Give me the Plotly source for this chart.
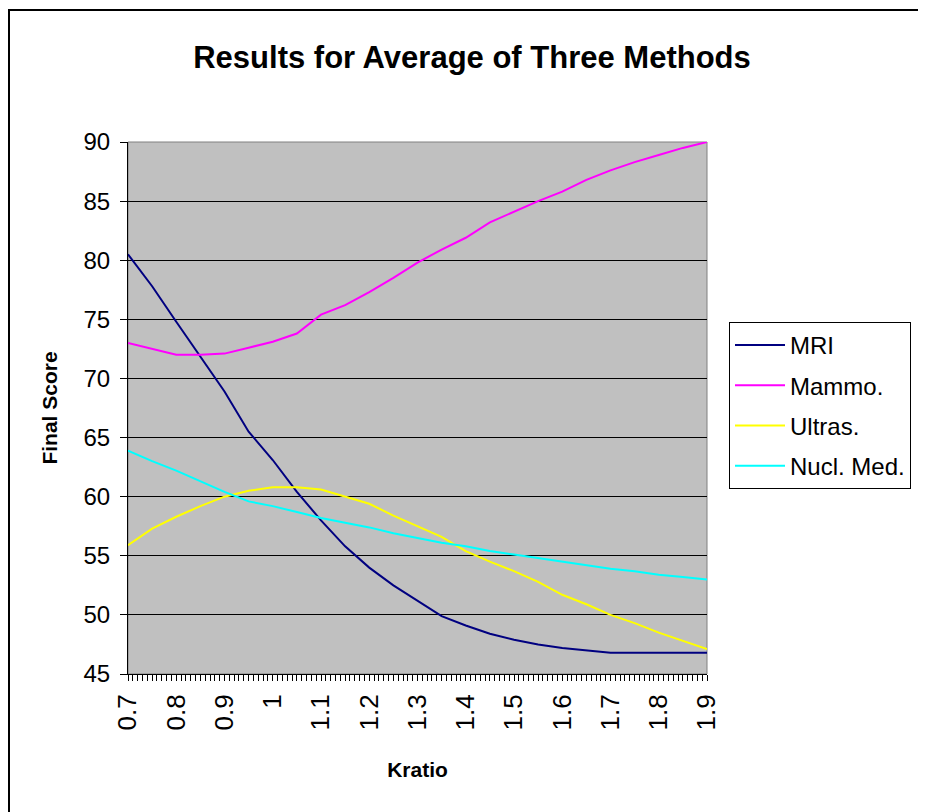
import plotly.graph_objects as go

kratio = [0.70, 0.75, 0.80, 0.85, 0.90, 0.95, 1.00, 1.05, 1.10, 1.15, 1.20, 1.25,
          1.30, 1.35, 1.40, 1.45, 1.50, 1.55, 1.60, 1.65, 1.70, 1.75, 1.80, 1.85, 1.90]

mri = [80.5, 77.8, 74.8, 71.9, 68.9, 65.5, 63.1, 60.4, 58.0, 55.8, 54.0, 52.5,
       51.2, 49.9, 49.1, 48.4, 47.9, 47.5, 47.2, 47.0, 46.8, 46.8, 46.8, 46.8, 46.8]

mammo = [73.0, 72.5, 72.0, 72.0, 72.1, 72.6, 73.1, 73.8, 75.4, 76.2, 77.3, 78.5,
         79.8, 80.9, 81.9, 83.2, 84.1, 85.0, 85.8, 86.8, 87.6, 88.3, 88.9, 89.5, 90.0]

ultras = [55.9, 57.3, 58.3, 59.2, 60.0, 60.5, 60.8, 60.8, 60.6, 60.0, 59.4, 58.4,
          57.5, 56.6, 55.4, 54.5, 53.7, 52.8, 51.7, 50.9, 50.0, 49.3, 48.5, 47.8, 47.1]

nucl = [63.9, 63.0, 62.2, 61.3, 60.4, 59.6, 59.2, 58.7, 58.2, 57.8, 57.4, 56.9,
        56.5, 56.1, 55.8, 55.4, 55.1, 54.8, 54.5, 54.2, 53.9, 53.7, 53.4, 53.2, 53.0]

series_names = ["MRI", "Mammo.", "Ultras.", "Nucl. Med."]
series_colors = ["#000080", "#FF00FF", "#FFFF00", "#00FFFF"]

FONT = "Arial, 'Liberation Sans', sans-serif"

fig = go.Figure()
for name, vals, col in zip(series_names, [mri, mammo, ultras, nucl], series_colors):
    fig.add_trace(go.Scatter(x=kratio, y=vals, mode="lines", name=name,
                             legendgroup=name,
                             line=dict(color=col, width=2)))

# page has an 8px body margin; work in figure coordinates (screen - 8)
OFF = 8
W, H = 926 - OFF, 812 - OFF
L, R, T, B = 128 - OFF, 707 - OFF, 142 - OFF, 674 - OFF


def px_x(p):
    return (p - OFF - L) / (R - L)


def px_y(p):
    return (B - (p - OFF)) / (B - T)


fig.update_layout(
    width=W, height=H,
    margin=dict(l=L, r=W - R, t=T, b=H - B, pad=0),
    paper_bgcolor="white",
    plot_bgcolor="#C0C0C0",
    font=dict(family=FONT, color="black", size=22),
    showlegend=True,
    title=dict(text="<b>Results for Average of Three Methods</b>",
               font=dict(family=FONT, size=31, color="black"),
               x=(472 - OFF) / W, xref="container", xanchor="center",
               y=1 - (57 - OFF) / H, yref="container", yanchor="middle"),
    legend=dict(x=px_x(729), y=px_y(322), xanchor="left", yanchor="top",
                bgcolor="white", bordercolor="black", borderwidth=1,
                font=dict(family=FONT, size=24, color="black"),
                itemwidth=50,
                tracegroupgap=6, traceorder="grouped"),
    xaxis=dict(range=[0.7, 1.9], tickmode="linear", tick0=0.7, dtick=0.1,
               tickangle=-90, ticks="outside", ticklen=6, tickcolor="black",
               showgrid=False, zeroline=False,
               showline=True, linecolor="black", linewidth=1,
               tickfont=dict(family=FONT, size=26, color="black"),
               ticklabelstandoff=3,
               minor=dict(dtick=0.01, tick0=0.7, ticks="outside", ticklen=6,
                          tickcolor="black", showgrid=False),
               title=dict(text="<b>Kratio</b>", font=dict(family=FONT, size=21),
                          standoff=32)),
    yaxis=dict(range=[45, 90], tickmode="linear", tick0=45, dtick=5,
               ticks="outside", ticklen=7, tickcolor="black",
               showgrid=True, gridcolor="black", gridwidth=1,
               zeroline=False, showline=True, linecolor="black", linewidth=1,
               tickfont=dict(family=FONT, size=24, color="black"),
               ticklabelstandoff=5,
               title=dict(text="<b>Final Score</b>", font=dict(family=FONT, size=21),
                          standoff=20)),
    shapes=[
        dict(type="rect", xref="paper", yref="paper", x0=0, x1=1, y0=0, y1=1,
             line=dict(color="#808080", width=1), layer="below"),
        dict(type="rect", xref="paper", yref="paper",
             x0=px_x(9), x1=px_x(945), y0=px_y(830), y1=px_y(10),
             line=dict(color="black", width=2), fillcolor="rgba(0,0,0,0)"),
    ],
)

fig.write_html("out.html")
